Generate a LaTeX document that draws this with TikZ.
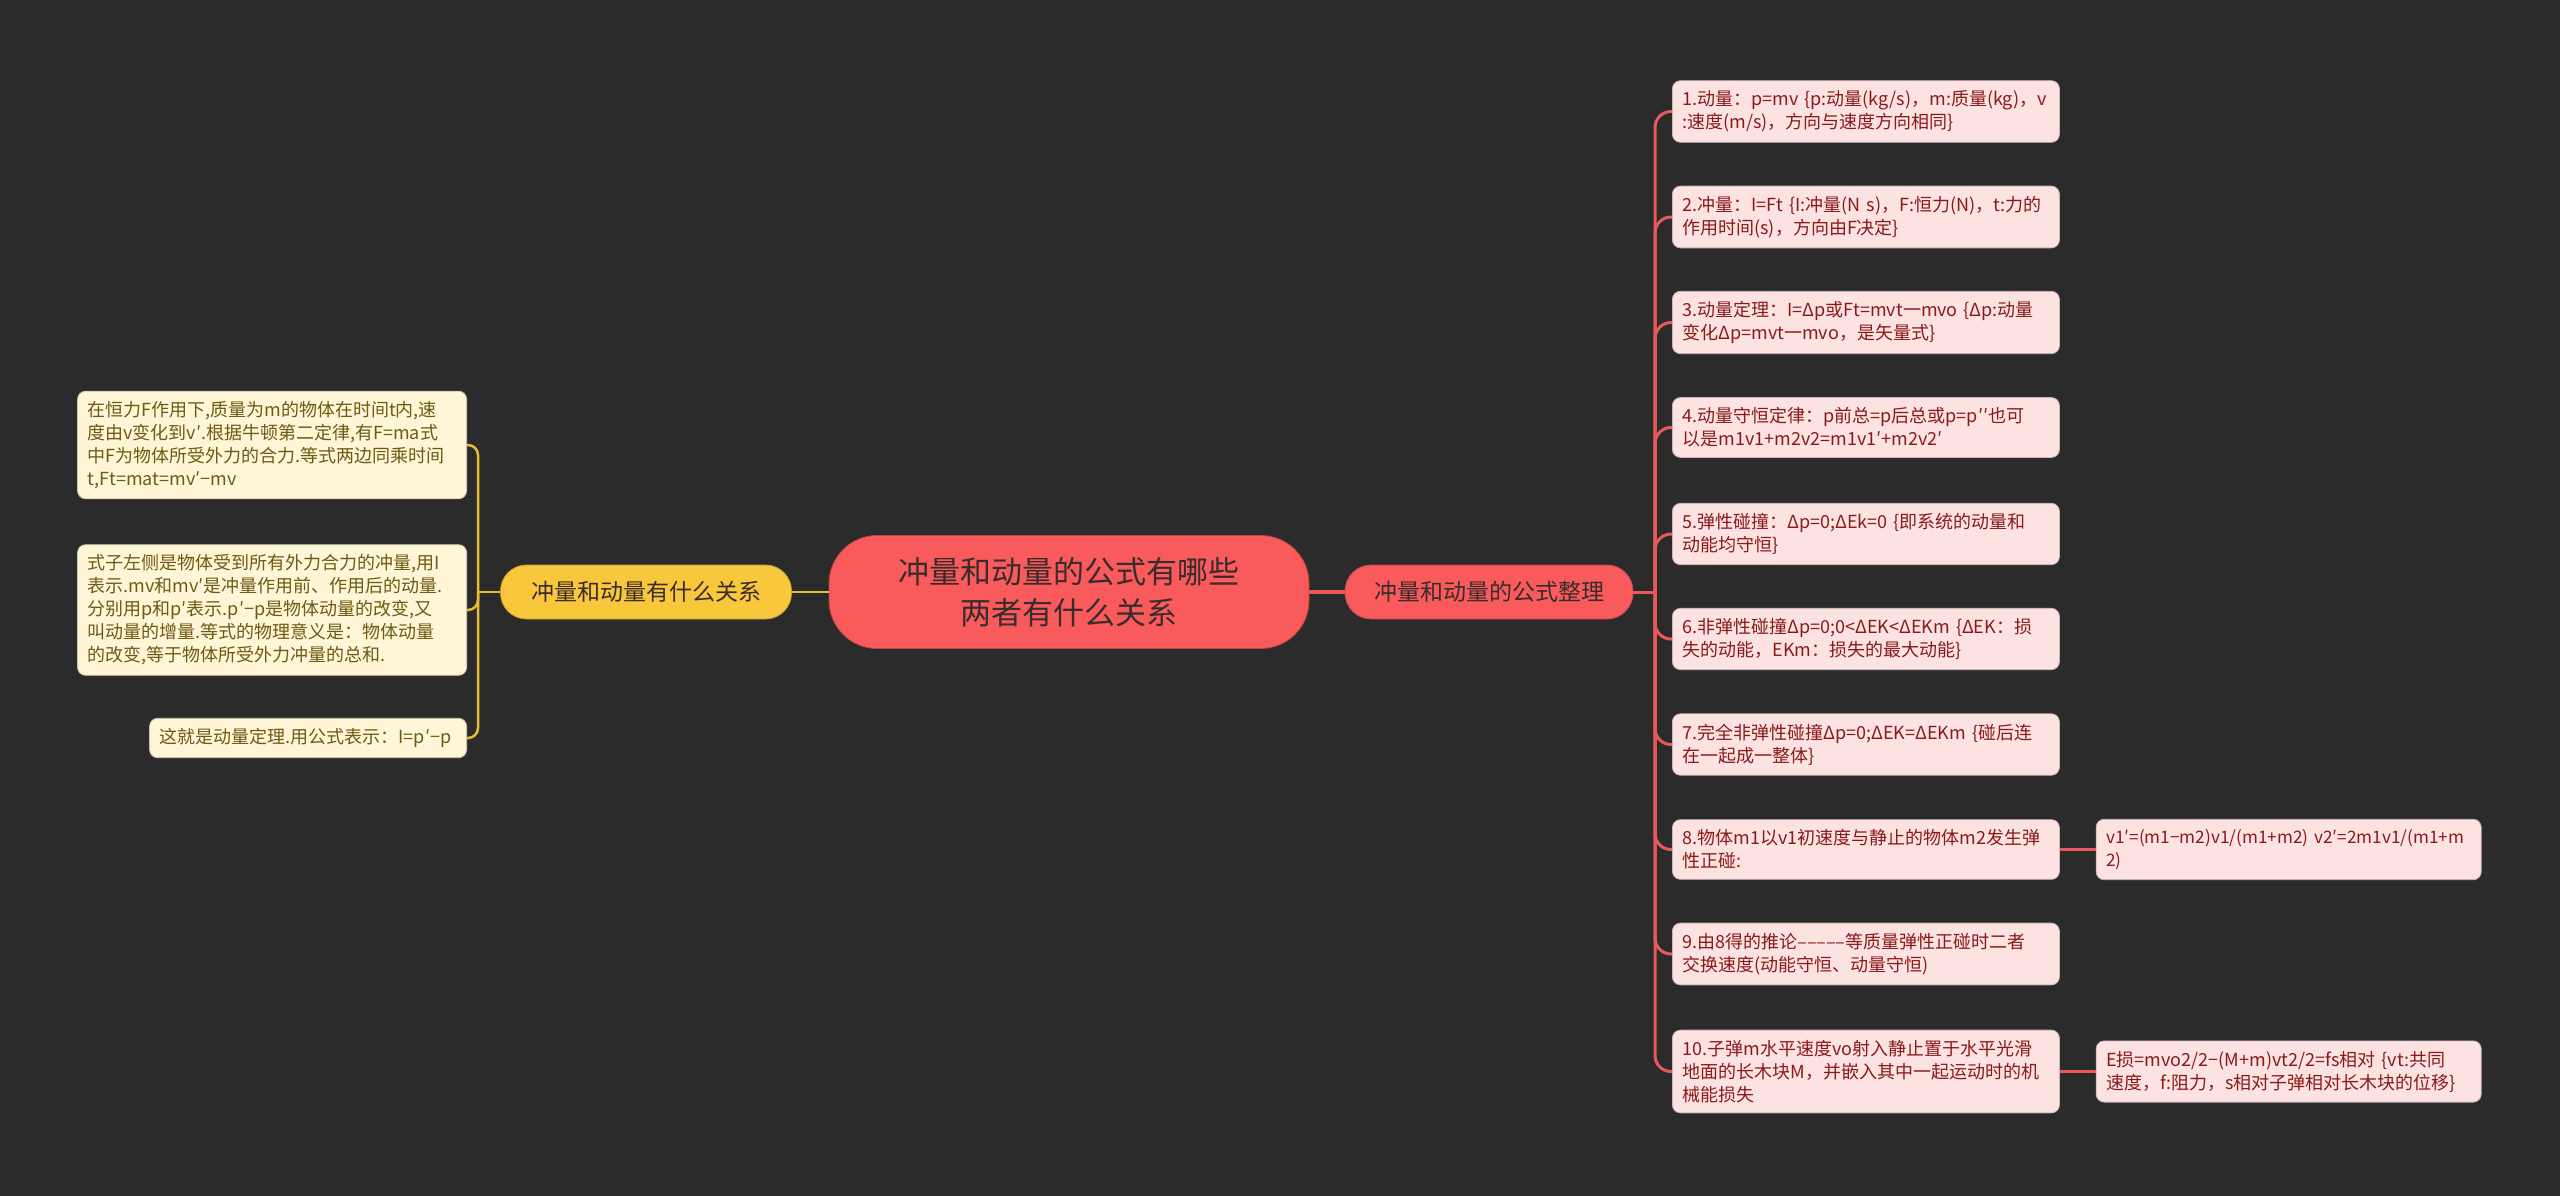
\documentclass[tikz,border=0pt]{standalone}
\usepackage{fontspec}
\setmainfont{Noto Sans CJK SC}
\usetikzlibrary{positioning}
\definecolor{bgdark}{HTML}{2B2B2B}
\definecolor{rootred}{HTML}{F95A5C}
\definecolor{mainyel}{HTML}{F9C73B}
\definecolor{leafpink}{HTML}{FDE2E2}
\definecolor{leafcream}{HTML}{FEF6D6}
\definecolor{txtred}{HTML}{8A1A1A}
\definecolor{txtolive}{HTML}{6E5A14}
\definecolor{txtdark}{HTML}{3A2C2C}
\definecolor{linered}{HTML}{E9595B}
\definecolor{lineyel}{HTML}{E8BC35}

\begin{document}
\begin{tikzpicture}[x=1pt,y=-1pt,
  rootbox/.style={rectangle,rounded corners=48pt,fill=rootred,draw=rootred!75!black,line width=0.8pt,
    text=txtdark,minimum width=480pt,minimum height=113pt,align=center,
    font=\fontsize{31}{41}\selectfont},
  mainbox/.style={rectangle,rounded corners=26pt,draw=#1!80!black,fill=#1,line width=0.8pt,
    text=txtdark,minimum height=54pt,inner xsep=16pt,font=\fontsize{23}{28}\selectfont},
  rleaf/.style={rectangle,rounded corners=8pt,fill=leafpink,draw=leafpink!80!black,line width=0.8pt,
    text=txtred,text width=367pt,align=left,inner xsep=10pt,inner ysep=10pt,
    font=\fontsize{18}{23}\selectfont},
  lleaf/.style={rleaf,fill=leafcream,draw=leafcream!80!black,text=txtolive,text width=369pt},
  rlink/.style={draw=linered,line width=3pt},
  llink/.style={draw=lineyel,line width=2.5pt}]
  \useasboundingbox (0,0) rectangle (2560,1196);
  \fill[bgdark] (0,0) rectangle (2560,1196);

  % centre and the two main branches
  \node[rootbox] (root) at (1069,592) {冲量和动量的公式有哪些\\两者有什么关系};
  \node[mainbox=mainyel,minimum width=291pt] (lmain) at (646,592) {冲量和动量有什么关系};
  \node[mainbox=rootred,minimum width=288pt] (rmain) at (1489,592) {冲量和动量的公式整理};

  % left side
  \node[lleaf,anchor=east] (l1) at (467,445) {在恒力F作用下,质量为m的物体在时间t内,速\\度由v变化到v′.根据牛顿第二定律,有F=ma式\\中F为物体所受外力的合力.等式两边同乘时间\\t,Ft=mat=mv′−mv};
  \node[lleaf,anchor=east] (l2) at (467,610) {式子左侧是物体受到所有外力合力的冲量,用I\\表示.mv和mv′是冲量作用前、作用后的动量.\\分别用p和p′表示.p′−p是物体动量的改变,又\\叫动量的增量.等式的物理意义是：物体动量\\的改变,等于物体所受外力冲量的总和.};
  \node[lleaf,anchor=east,text width=297pt] (l3) at (467,738) {这就是动量定理.用公式表示：I=p′−p};

  % right side
  \node[rleaf,anchor=west] (r1) at (1672,111.5) {1.动量：p=mv \{p:动量(kg/s)，m:质量(kg)，v\\:速度(m/s)，方向与速度方向相同\}};
  \node[rleaf,anchor=west] (r2) at (1672,217) {2.冲量：I=Ft \{I:冲量(N s)，F:恒力(N)，t:力的\\作用时间(s)，方向由F决定\}};
  \node[rleaf,anchor=west] (r3) at (1672,322.5) {3.动量定理：I=Δp或Ft=mvt一mvo \{Δp:动量\\变化Δp=mvt一mvo，是矢量式\}};
  \node[rleaf,anchor=west] (r4) at (1672,427.5) {4.动量守恒定律：p前总=p后总或p=p′′也可\\以是m1v1+m2v2=m1v1′+m2v2′};
  \node[rleaf,anchor=west] (r5) at (1672,534) {5.弹性碰撞：Δp=0;ΔEk=0 \{即系统的动量和\\动能均守恒\}};
  \node[rleaf,anchor=west] (r6) at (1672,639) {6.非弹性碰撞Δp=0;0<ΔEK<ΔEKm \{ΔEK：损\\失的动能，EKm：损失的最大动能\}};
  \node[rleaf,anchor=west] (r7) at (1672,744.5) {7.完全非弹性碰撞Δp=0;ΔEK=ΔEKm \{碰后连\\在一起成一整体\}};
  \node[rleaf,anchor=west] (r8) at (1672,849.5) {8.物体m1以v1初速度与静止的物体m2发生弹\\性正碰:};
  \node[rleaf,anchor=west] (r9) at (1672,954) {9.由8得的推论–––––等质量弹性正碰时二者\\交换速度(动能守恒、动量守恒)};
  \node[rleaf,anchor=west] (r10) at (1672,1071.5) {10.子弹m水平速度vo射入静止置于水平光滑\\地面的长木块M，并嵌入其中一起运动时的机\\械能损失};
  % formulas hanging off 8 and 10
  \node[rleaf,right=36pt of r8,text width=365pt,font=\fontsize{17.2}{23}\selectfont] (s8) {v1′=(m1−m2)v1/(m1+m2)~v2′=2m1v1/(m1+m\\2)};
  \node[rleaf,right=36pt of r10,text width=365pt] (s10) {E损=mvo2/2−(M+m)vt2/2=fs相对 \{vt:共同\\速度，f:阻力，s相对子弹相对长木块的位移\}};

  % links
  \coordinate (lfork) at (478,592);
  \coordinate (rfork) at (1655,592);
  \draw[llink] (root.west) -- (lmain.east);
  \draw[rlink,line width=4pt] (root.east) -- (rmain.west);
  \draw[llink] (lmain.west) -- (lfork);
  \draw[rlink] (rmain.east) -- (rfork);
  \draw[llink,rounded corners=10pt] (lfork) |- (l1.east);
  \draw[llink,rounded corners=10pt] (lfork) |- (l2.east);
  \draw[llink,rounded corners=10pt] (lfork) |- (l3.east);
  \draw[rlink,rounded corners=16pt] (rfork) |- (r1.west);
  \draw[rlink,rounded corners=16pt] (rfork) |- (r2.west);
  \draw[rlink,rounded corners=16pt] (rfork) |- (r3.west);
  \draw[rlink,rounded corners=16pt] (rfork) |- (r4.west);
  \draw[rlink,rounded corners=16pt] (rfork) |- (r5.west);
  \draw[rlink,rounded corners=16pt] (rfork) |- (r6.west);
  \draw[rlink,rounded corners=16pt] (rfork) |- (r7.west);
  \draw[rlink,rounded corners=16pt] (rfork) |- (r8.west);
  \draw[rlink,rounded corners=16pt] (rfork) |- (r9.west);
  \draw[rlink,rounded corners=16pt] (rfork) |- (r10.west);
  \draw[rlink] (r8.east) -- (s8.west);
  \draw[rlink] (r10.east) -- (s10.west);
\end{tikzpicture}
\end{document}
